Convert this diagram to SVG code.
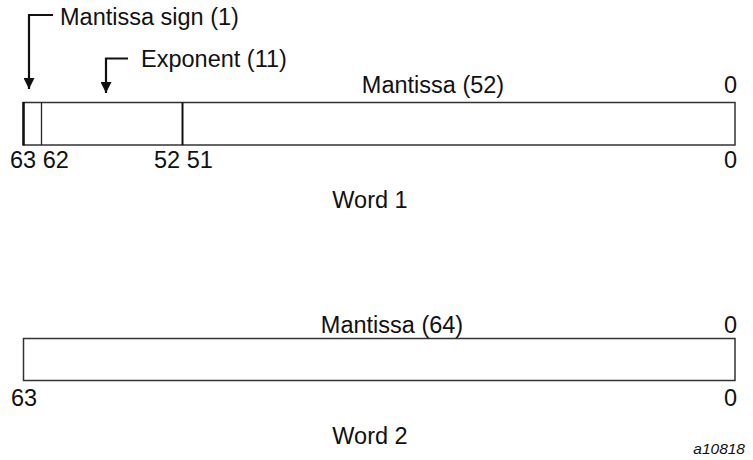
<svg xmlns="http://www.w3.org/2000/svg" width="753" height="460" viewBox="0 0 753 460">
<style>
text{font-family:"Liberation Sans",Arial,sans-serif;font-size:23.5px;fill:#111}
.c{text-anchor:middle}
.e{text-anchor:end}
.box{fill:#fff;stroke:#333;stroke-width:1.5}
.conn{fill:none;stroke:#111;stroke-width:2.2}
.fig{font-size:15.5px;font-style:italic;text-anchor:end}
</style>
<defs>
<marker id="ah" viewBox="0 0 10 10" refX="10" refY="5" markerWidth="19" markerHeight="11" markerUnits="userSpaceOnUse" orient="auto">
<path d="M0,0 L10,5 L0,10 z" fill="#111"/>
</marker>
</defs>
<g id="word1">
<rect class="box" x="23.5" y="102.5" width="711.5" height="42.5"/>
<line x1="23.5" y1="102" x2="23.5" y2="145.5" stroke="#111" stroke-width="2.5"/>
<line x1="41.5" y1="102.5" x2="41.5" y2="145" stroke="#222" stroke-width="1.3"/>
<line x1="182.5" y1="102.5" x2="182.5" y2="145" stroke="#111" stroke-width="2"/>
<text class="c" x="433" y="93">Mantissa (52)</text>
<text class="e" x="737" y="93">0</text>
<text x="10" y="168">63 62</text>
<text x="154" y="168">52 51</text>
<text class="e" x="737" y="168">0</text>
<text class="c" x="370" y="208">Word 1</text>
</g>
<g id="labels">
<text x="60" y="25">Mantissa sign (1)</text>
<text x="141" y="67">Exponent (11)</text>
</g>
<g id="connectors">
<path class="conn" d="M53,15 H29 V89" marker-end="url(#ah)"/>
<path class="conn" d="M128,58.5 H106 V93" marker-end="url(#ah)"/>
</g>
<g id="word2">
<rect class="box" x="23.5" y="338.5" width="711.5" height="42"/>
<text class="c" x="392" y="333">Mantissa (64)</text>
<text class="e" x="737" y="333">0</text>
<text x="11" y="406">63</text>
<text class="e" x="737" y="406">0</text>
<text class="c" x="370" y="444">Word 2</text>
</g>
<text class="fig" x="745" y="454">a10818</text>
</svg>
